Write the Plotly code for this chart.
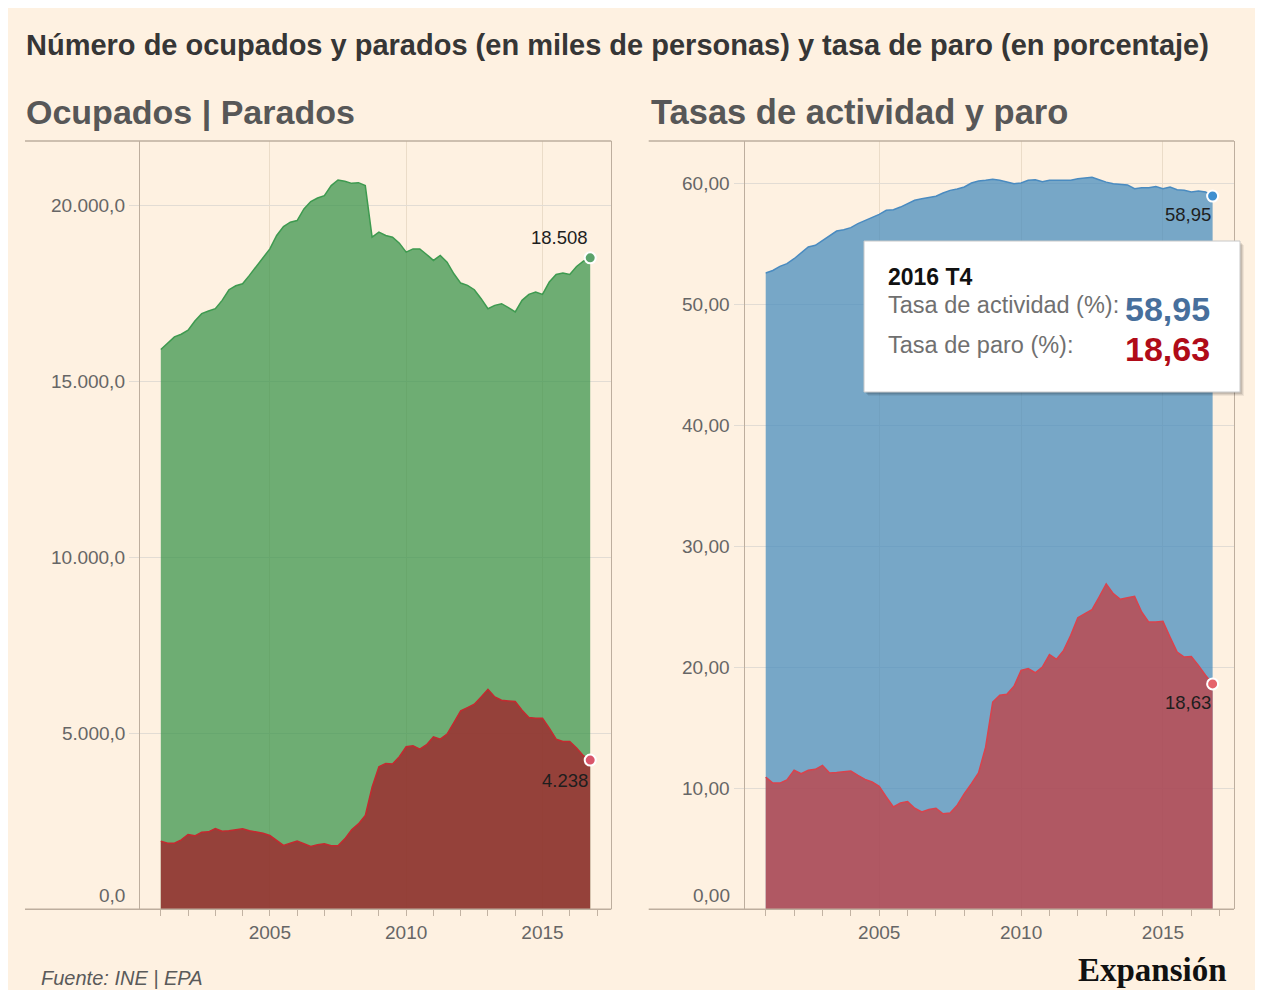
import plotly.graph_objects as go

# ---------------- data ----------------
years = [y for y in range(2001, 2017) for q in range(4)]
quarters = [q for y in range(2001, 2017) for q in range(1, 5)]
labels = [f"{y} T{q}" for y, q in zip(years, quarters)]
xpos = [y + (q - 1) / 4 for y, q in zip(years, quarters)]

ocupados = [15902, 16072, 16262, 16337, 16451, 16714, 16922, 16998,
            17063, 17300, 17602, 17715, 17772, 18009, 18264, 18528,
            18762, 19142, 19397, 19519, 19567, 19896, 20106, 20208,
            20275, 20559, 20718, 20681, 20624, 20643, 20559, 19094,
            19236, 19142, 19094, 18925, 18670, 18762, 18762, 18604,
            18434, 18575, 18386, 18055, 17791, 17726, 17602, 17347,
            17063, 17158, 17205, 17092, 16970, 17300, 17470, 17536,
            17470, 17820, 18037, 18074, 18037, 18264, 18415, 18508]

parados = [1936, 1879, 1879, 1974, 2125, 2087, 2190, 2200,
           2295, 2218, 2230, 2267, 2286, 2230, 2190, 2162,
           2096, 1955, 1813, 1879, 1936, 1861, 1785, 1832,
           1861, 1804, 1804, 2002, 2257, 2427, 2663, 3465,
           4050, 4145, 4126, 4335, 4618, 4646, 4552, 4675,
           4901, 4835, 4977, 5306, 5638, 5731, 5825, 6034,
           6251, 6034, 5940, 5920, 5901, 5657, 5447, 5430,
           5430, 5147, 4835, 4768, 4768, 4581, 4363, 4238]

tasa_actividad = [52.59, 52.80, 53.14, 53.36, 53.77, 54.24, 54.74, 54.88,
                  55.29, 55.67, 56.06, 56.17, 56.34, 56.67, 56.94, 57.16,
                  57.44, 57.77, 57.82, 58.04, 58.32, 58.60, 58.73, 58.80,
                  58.93, 59.20, 59.42, 59.53, 59.70, 60.03, 60.19, 60.25,
                  60.33, 60.25, 60.10, 59.97, 60.03, 60.25, 60.30, 60.14,
                  60.25, 60.25, 60.30, 60.25, 60.38, 60.44, 60.50, 60.30,
                  60.10, 59.97, 59.93, 59.87, 59.56, 59.63, 59.63, 59.74,
                  59.56, 59.69, 59.47, 59.42, 59.28, 59.36, 59.28, 58.95]

tasa_paro = [10.93, 10.43, 10.43, 10.70, 11.49, 11.20, 11.49, 11.57,
             11.90, 11.27, 11.30, 11.35, 11.43, 11.07, 10.74, 10.52,
             10.17, 9.28, 8.46, 8.79, 8.90, 8.35, 8.04, 8.24,
             8.35, 7.90, 7.95, 8.60, 9.56, 10.38, 11.27, 13.40,
             17.13, 17.69, 17.77, 18.43, 19.75, 19.90, 19.55, 20.02,
             21.05, 20.66, 21.40, 22.64, 24.10, 24.43, 24.77, 25.81,
             26.90, 26.09, 25.62, 25.75, 25.87, 24.57, 23.74, 23.74,
             23.80, 22.50, 21.26, 20.85, 20.90, 20.16, 19.34, 18.63]

left_yticks = [0, 5000, 10000, 15000, 20000]
right_yticks = [0, 10, 20, 30, 40, 50, 60]
xticks = [2005, 2010, 2015]

# ---------------- helpers ----------------
W, H = 1247, 982
OFF = 8


def px(x):
    return (x - OFF) / W


def py(y):
    return 1 - (y - OFF) / H


def es_int(v):
    return f"{v:,.0f}".replace(",", ".")


def es_dec(v, n):
    s = f"{v:,.{n}f}"
    return s.replace(",", "X").replace(".", ",").replace("X", ".")


BG = "#FEF1E1"
FRAME = "#BDAE9E"
GRID_H = "#E2DCD4"
GRID_V = "#EBDCC8"
TICKC = "#C2B3A3"
LABC = "#666666"
FONT = "Liberation Sans, Arial, sans-serif"

fig = go.Figure()

# left panel
fig.add_trace(go.Scatter(x=xpos, y=ocupados, mode="lines", fill="tozeroy",
                         fillcolor="rgba(62,150,78,0.75)",
                         line=dict(color="#3E9A50", width=1.5),
                         xaxis="x", yaxis="y", hoverinfo="skip"))
fig.add_trace(go.Scatter(x=xpos, y=parados, mode="lines", fill="tozeroy",
                         fillcolor="rgba(163,30,39,0.75)",
                         line=dict(color="#C42A30", width=1.5),
                         xaxis="x", yaxis="y", hoverinfo="skip"))
fig.add_trace(go.Scatter(x=[xpos[-1]], y=[ocupados[-1]], mode="markers",
                         marker=dict(size=11, color="#5BA36B", line=dict(color="white", width=2)),
                         xaxis="x", yaxis="y", cliponaxis=False, hoverinfo="skip"))
fig.add_trace(go.Scatter(x=[xpos[-1]], y=[parados[-1]], mode="markers",
                         marker=dict(size=11, color="#D9556A", line=dict(color="white", width=2)),
                         xaxis="x", yaxis="y", cliponaxis=False, hoverinfo="skip"))

# right panel
fig.add_trace(go.Scatter(x=xpos, y=tasa_actividad, mode="lines", fill="tozeroy",
                         fillcolor="rgba(73,141,189,0.75)",
                         line=dict(color="#4A8BC0", width=1.5),
                         xaxis="x2", yaxis="y2", hoverinfo="skip"))
fig.add_trace(go.Scatter(x=xpos, y=tasa_paro, mode="lines", fill="tozeroy",
                         fillcolor="rgba(195,61,66,0.75)",
                         line=dict(color="#D9434D", width=1.5),
                         xaxis="x2", yaxis="y2", hoverinfo="skip"))
fig.add_trace(go.Scatter(x=[xpos[-1]], y=[tasa_actividad[-1]], mode="markers",
                         marker=dict(size=11, color="#3F8FD0", line=dict(color="white", width=2)),
                         xaxis="x2", yaxis="y2", cliponaxis=False, hoverinfo="skip"))
fig.add_trace(go.Scatter(x=[xpos[-1]], y=[tasa_paro[-1]], mode="markers",
                         marker=dict(size=11, color="#E5636B", line=dict(color="white", width=2)),
                         xaxis="x2", yaxis="y2", cliponaxis=False, hoverinfo="skip"))

ydom = [py(909.3), py(141)]

xaxis_common = dict(
    tickvals=xticks, ticktext=[str(t) for t in xticks],
    ticks="outside", ticklen=6, tickcolor=TICKC, tickwidth=1,
    showgrid=True, gridcolor=GRID_V, gridwidth=1,
    showline=False, zeroline=False,
    tickfont=dict(family=FONT, size=19, color=LABC),
    minor=dict(tickvals=list(range(2001, 2018)), ticks="outside", ticklen=6,
               tickcolor=TICKC, showgrid=False),
)

fig.update_layout(
    width=W, height=H,
    margin=dict(l=0, r=0, t=0, b=0),
    paper_bgcolor=BG, plot_bgcolor=BG,
    showlegend=False,
    separators=",.",
    font=dict(family=FONT, color=LABC),
    xaxis=dict(domain=[px(140), px(611.3)], range=[2000.237, 2017.524], anchor="y",
               **xaxis_common),
    xaxis2=dict(domain=[px(745), px(1234)], range=[2000.27, 2017.504], anchor="y2",
                **xaxis_common),
    yaxis=dict(domain=ydom, range=[0, 21827], tickvals=left_yticks,
               showticklabels=False, ticks="outside", ticklen=10, tickcolor=GRID_H,
               showgrid=True, gridcolor=GRID_H, zeroline=False,
               showline=True, linecolor=FRAME, linewidth=1, mirror=True, anchor="x"),
    yaxis2=dict(domain=ydom, range=[0, 63.5], tickvals=right_yticks,
                showticklabels=False, ticks="outside", ticklen=10, tickcolor=GRID_H,
                showgrid=True, gridcolor=GRID_H, zeroline=False,
                showline=True, linecolor=FRAME, linewidth=1, mirror=True, anchor="x2"),
)

shapes = []
# frame top/bottom lines extending over label area
for (xa, xb) in [(25, 611.3), (648.7, 1234)]:
    for yy in (141, 909.3):
        shapes.append(dict(type="line", xref="paper", yref="paper",
                           x0=px(xa), x1=px(xb), y0=py(yy), y1=py(yy),
                           line=dict(color=FRAME, width=1.5), layer="above"))
# tooltip shadow + box
for d, c in [(4, "rgba(0,0,0,0.06)"), (3, "rgba(0,0,0,0.08)"), (2, "rgba(0,0,0,0.10)")]:
    shapes.append(dict(type="rect", xref="paper", yref="paper",
                       x0=px(864 + d), x1=px(1240 + d), y0=py(392 + d), y1=py(241 + d),
                       fillcolor=c, line=dict(width=0), layer="above"))
shapes.append(dict(type="rect", xref="paper", yref="paper",
                   x0=px(864), x1=px(1240), y0=py(392), y1=py(241),
                   fillcolor="white", line=dict(color="#C8C8C8", width=1), layer="above"))
fig.update_layout(shapes=shapes)

ann = []
# titles
ann.append(dict(text="Número de ocupados y parados (en miles de personas) y tasa de paro (en porcentaje)",
                xref="paper", yref="paper", x=px(24), y=py(45), xanchor="left", yanchor="middle",
                showarrow=False, font=dict(family=FONT, size=29, color="#363636", weight="bold")))
ann.append(dict(text="Ocupados | Parados", xref="paper", yref="paper", x=px(24), y=py(112),
                xanchor="left", yanchor="middle", showarrow=False,
                font=dict(family=FONT, size=34, color="#575757", weight="bold")))
ann.append(dict(text="Tasas de actividad y paro", xref="paper", yref="paper", x=px(649), y=py(112),
                xanchor="left", yanchor="middle", showarrow=False,
                font=dict(family=FONT, size=34.5, color="#575757", weight="bold")))

# y tick labels
for v in left_yticks:
    ann.append(dict(text=es_dec(v, 1), xref="paper", yref="y", x=px(127), y=v,
                    xanchor="right", yanchor="middle", showarrow=False,
                    yshift=14 if v == 0 else 0,
                    font=dict(family=FONT, size=19, color=LABC)))
for v in right_yticks:
    ann.append(dict(text=es_dec(v, 2), xref="paper", yref="y2", x=px(732), y=v,
                    xanchor="right", yanchor="middle", showarrow=False,
                    yshift=14 if v == 0 else 0,
                    font=dict(family=FONT, size=19, color=LABC)))

# data labels
lab_font = dict(family=FONT, size=18.5, color="#1E1E1E")
ann.append(dict(text=es_int(ocupados[-1]), xref="x", yref="y", x=xpos[-1], y=ocupados[-1],
                xanchor="right", yanchor="middle", yshift=20, xshift=0, showarrow=False, font=lab_font))
ann.append(dict(text=es_int(parados[-1]), xref="x", yref="y", x=xpos[-1], y=parados[-1],
                xanchor="right", yanchor="middle", yshift=-20, xshift=0, showarrow=False, font=lab_font))
ann.append(dict(text=es_dec(tasa_actividad[-1], 2), xref="x2", yref="y2", x=xpos[-1], y=tasa_actividad[-1],
                xanchor="right", yanchor="middle", yshift=-18, xshift=0, showarrow=False, font=lab_font))
ann.append(dict(text=es_dec(tasa_paro[-1], 2), xref="x2", yref="y2", x=xpos[-1], y=tasa_paro[-1],
                xanchor="right", yanchor="middle", yshift=-19, xshift=0, showarrow=False, font=lab_font))

# tooltip text
ann.append(dict(text=labels[-1], xref="paper", yref="paper", x=px(886), y=py(277),
                xanchor="left", yanchor="middle", showarrow=False,
                font=dict(family=FONT, size=23, color="#111111", weight="bold")))
ann.append(dict(text="Tasa de actividad (%):", xref="paper", yref="paper", x=px(886), y=py(305),
                xanchor="left", yanchor="middle", showarrow=False,
                font=dict(family=FONT, size=23.5, color="#707070")))
ann.append(dict(text="Tasa de paro (%):", xref="paper", yref="paper", x=px(886), y=py(345),
                xanchor="left", yanchor="middle", showarrow=False,
                font=dict(family=FONT, size=23.5, color="#707070")))
ann.append(dict(text=es_dec(tasa_actividad[-1], 2), xref="paper", yref="paper", x=px(1212), y=py(309),
                xanchor="right", yanchor="middle", showarrow=False,
                font=dict(family=FONT, size=34, color="#476F9C", weight="bold")))
ann.append(dict(text=es_dec(tasa_paro[-1], 2), xref="paper", yref="paper", x=px(1212), y=py(349),
                xanchor="right", yanchor="middle", showarrow=False,
                font=dict(family=FONT, size=34, color="#B00B18", weight="bold")))

# footer
ann.append(dict(text="<i>Fuente: INE | EPA</i>", xref="paper", yref="paper", x=px(39), y=py(978),
                xanchor="left", yanchor="middle", showarrow=False,
                font=dict(family=FONT, size=20, color="#5A5A5A")))
ann.append(dict(text="Expansión", xref="paper", yref="paper", x=px(1229), y=py(970),
                xanchor="right", yanchor="middle", showarrow=False,
                font=dict(family="Liberation Serif, Times New Roman, serif", size=33,
                          color="#111111", weight="bold")))

fig.update_layout(annotations=ann)

fig.write_html("out.html")
